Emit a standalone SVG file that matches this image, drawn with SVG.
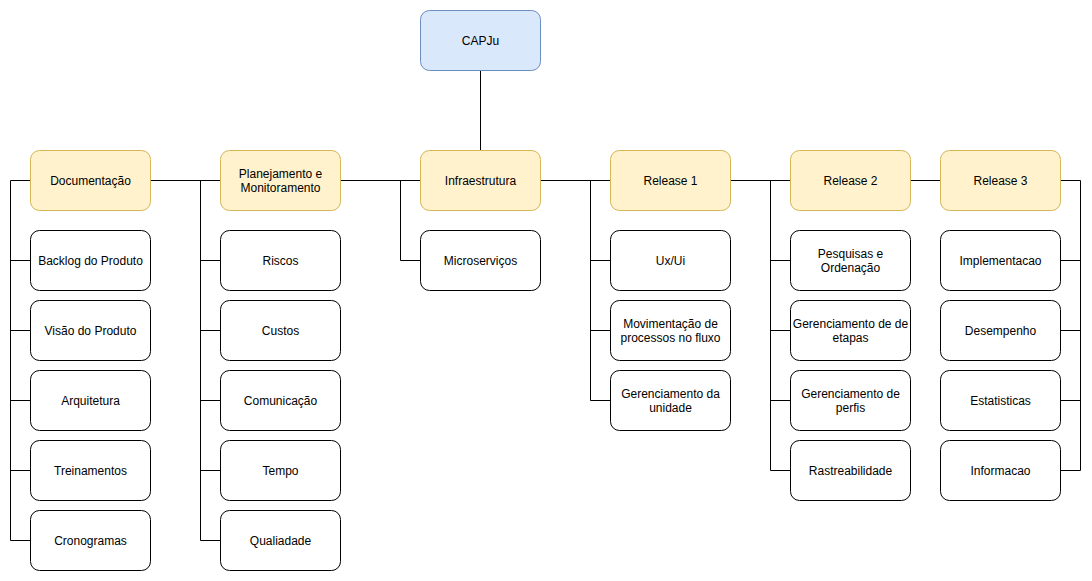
<svg xmlns="http://www.w3.org/2000/svg" width="1092" height="581" viewBox="0 0 1092 581">
<style>
.n{fill:#ffffff;stroke:#000000;stroke-width:1}
.y{fill:#fff2cc;stroke:#d6b656;stroke-width:1}
.b{fill:#dae8fc;stroke:#6c8ebf;stroke-width:1}
text{font-family:"Liberation Sans",Arial,sans-serif;font-size:12px;fill:#000;text-anchor:middle;dominant-baseline:central}
.c{fill:none;stroke:#000;stroke-width:1}
</style>
<rect width="1092" height="581" fill="#ffffff"/>
<g id="connectors">
<path class="c" d="M480.5 70V150"/>
<path class="c" d="M30 180.5H10.5V540.5H30M10.5 260.5H30M10.5 330.5H30M10.5 400.5H30M10.5 470.5H30"/>
<path class="c" d="M150 180.5H220M200.5 180.5V540.5H220M200.5 260.5H220M200.5 330.5H220M200.5 400.5H220M200.5 470.5H220"/>
<path class="c" d="M340 180.5H420M400.5 180.5V260.5H420"/>
<path class="c" d="M540 180.5H610M590.5 180.5V400.5H610M590.5 260.5H610M590.5 330.5H610"/>
<path class="c" d="M730 180.5H790M770.5 180.5V470.5H790M770.5 260.5H790M770.5 330.5H790M770.5 400.5H790"/>
<path class="c" d="M910 180.5H940" stroke="#555"/>
<path class="c" d="M1060 180.5H1080.5V470.5H1060M1080.5 260.5H1060M1080.5 330.5H1060M1080.5 400.5H1060"/>
</g>
<g id="capju"><rect class="b" x="420.5" y="10.5" width="120" height="60" rx="9"/><text x="480.5" y="40.5">CAPJu</text></g>
<g id="documentacao"><rect class="y" x="30.5" y="150.5" width="120" height="60" rx="9"/><text x="90.5" y="180.5">Documentação</text></g>
<g id="backlog"><rect class="n" x="30.5" y="230.5" width="120" height="60" rx="9"/><text x="90.5" y="260.5">Backlog do Produto</text></g>
<g id="visao"><rect class="n" x="30.5" y="300.5" width="120" height="60" rx="9"/><text x="90.5" y="330.5">Visão do Produto</text></g>
<g id="arquitetura"><rect class="n" x="30.5" y="370.5" width="120" height="60" rx="9"/><text x="90.5" y="400.5">Arquitetura</text></g>
<g id="treinamentos"><rect class="n" x="30.5" y="440.5" width="120" height="60" rx="9"/><text x="90.5" y="470.5">Treinamentos</text></g>
<g id="cronogramas"><rect class="n" x="30.5" y="510.5" width="120" height="60" rx="9"/><text x="90.5" y="540.5">Cronogramas</text></g>
<g id="planejamento"><rect class="y" x="220.5" y="150.5" width="120" height="60" rx="9"/><text x="280.5" y="173.5">Planejamento e</text><text x="280.5" y="187.5">Monitoramento</text></g>
<g id="riscos"><rect class="n" x="220.5" y="230.5" width="120" height="60" rx="9"/><text x="280.5" y="260.5">Riscos</text></g>
<g id="custos"><rect class="n" x="220.5" y="300.5" width="120" height="60" rx="9"/><text x="280.5" y="330.5">Custos</text></g>
<g id="comunicacao"><rect class="n" x="220.5" y="370.5" width="120" height="60" rx="9"/><text x="280.5" y="400.5">Comunicação</text></g>
<g id="tempo"><rect class="n" x="220.5" y="440.5" width="120" height="60" rx="9"/><text x="280.5" y="470.5">Tempo</text></g>
<g id="qualiadade"><rect class="n" x="220.5" y="510.5" width="120" height="60" rx="9"/><text x="280.5" y="540.5">Qualiadade</text></g>
<g id="infraestrutura"><rect class="y" x="420.5" y="150.5" width="120" height="60" rx="9"/><text x="480.5" y="180.5">Infraestrutura</text></g>
<g id="microservicos"><rect class="n" x="420.5" y="230.5" width="120" height="60" rx="9"/><text x="480.5" y="260.5">Microserviços</text></g>
<g id="release1"><rect class="y" x="610.5" y="150.5" width="120" height="60" rx="9"/><text x="670.5" y="180.5">Release 1</text></g>
<g id="uxui"><rect class="n" x="610.5" y="230.5" width="120" height="60" rx="9"/><text x="670.5" y="260.5">Ux/Ui</text></g>
<g id="movimentacao"><rect class="n" x="610.5" y="300.5" width="120" height="60" rx="9"/><text x="670.5" y="323.5">Movimentação de</text><text x="670.5" y="337.5">processos no fluxo</text></g>
<g id="gerenciamento-unidade"><rect class="n" x="610.5" y="370.5" width="120" height="60" rx="9"/><text x="670.5" y="393.5">Gerenciamento da</text><text x="670.5" y="407.5">unidade</text></g>
<g id="release2"><rect class="y" x="790.5" y="150.5" width="120" height="60" rx="9"/><text x="850.5" y="180.5">Release 2</text></g>
<g id="pesquisas"><rect class="n" x="790.5" y="230.5" width="120" height="60" rx="9"/><text x="850.5" y="253.5">Pesquisas e</text><text x="850.5" y="267.5">Ordenação</text></g>
<g id="gerenciamento-etapas"><rect class="n" x="790.5" y="300.5" width="120" height="60" rx="9"/><text x="850.5" y="323.5">Gerenciamento de de</text><text x="850.5" y="337.5">etapas</text></g>
<g id="gerenciamento-perfis"><rect class="n" x="790.5" y="370.5" width="120" height="60" rx="9"/><text x="850.5" y="393.5">Gerenciamento de</text><text x="850.5" y="407.5">perfis</text></g>
<g id="rastreabilidade"><rect class="n" x="790.5" y="440.5" width="120" height="60" rx="9"/><text x="850.5" y="470.5">Rastreabilidade</text></g>
<g id="release3"><rect class="y" x="940.5" y="150.5" width="120" height="60" rx="9"/><text x="1000.5" y="180.5">Release 3</text></g>
<g id="implementacao"><rect class="n" x="940.5" y="230.5" width="120" height="60" rx="9"/><text x="1000.5" y="260.5">Implementacao</text></g>
<g id="desempenho"><rect class="n" x="940.5" y="300.5" width="120" height="60" rx="9"/><text x="1000.5" y="330.5">Desempenho</text></g>
<g id="estatisticas"><rect class="n" x="940.5" y="370.5" width="120" height="60" rx="9"/><text x="1000.5" y="400.5">Estatisticas</text></g>
<g id="informacao"><rect class="n" x="940.5" y="440.5" width="120" height="60" rx="9"/><text x="1000.5" y="470.5">Informacao</text></g>
</svg>
